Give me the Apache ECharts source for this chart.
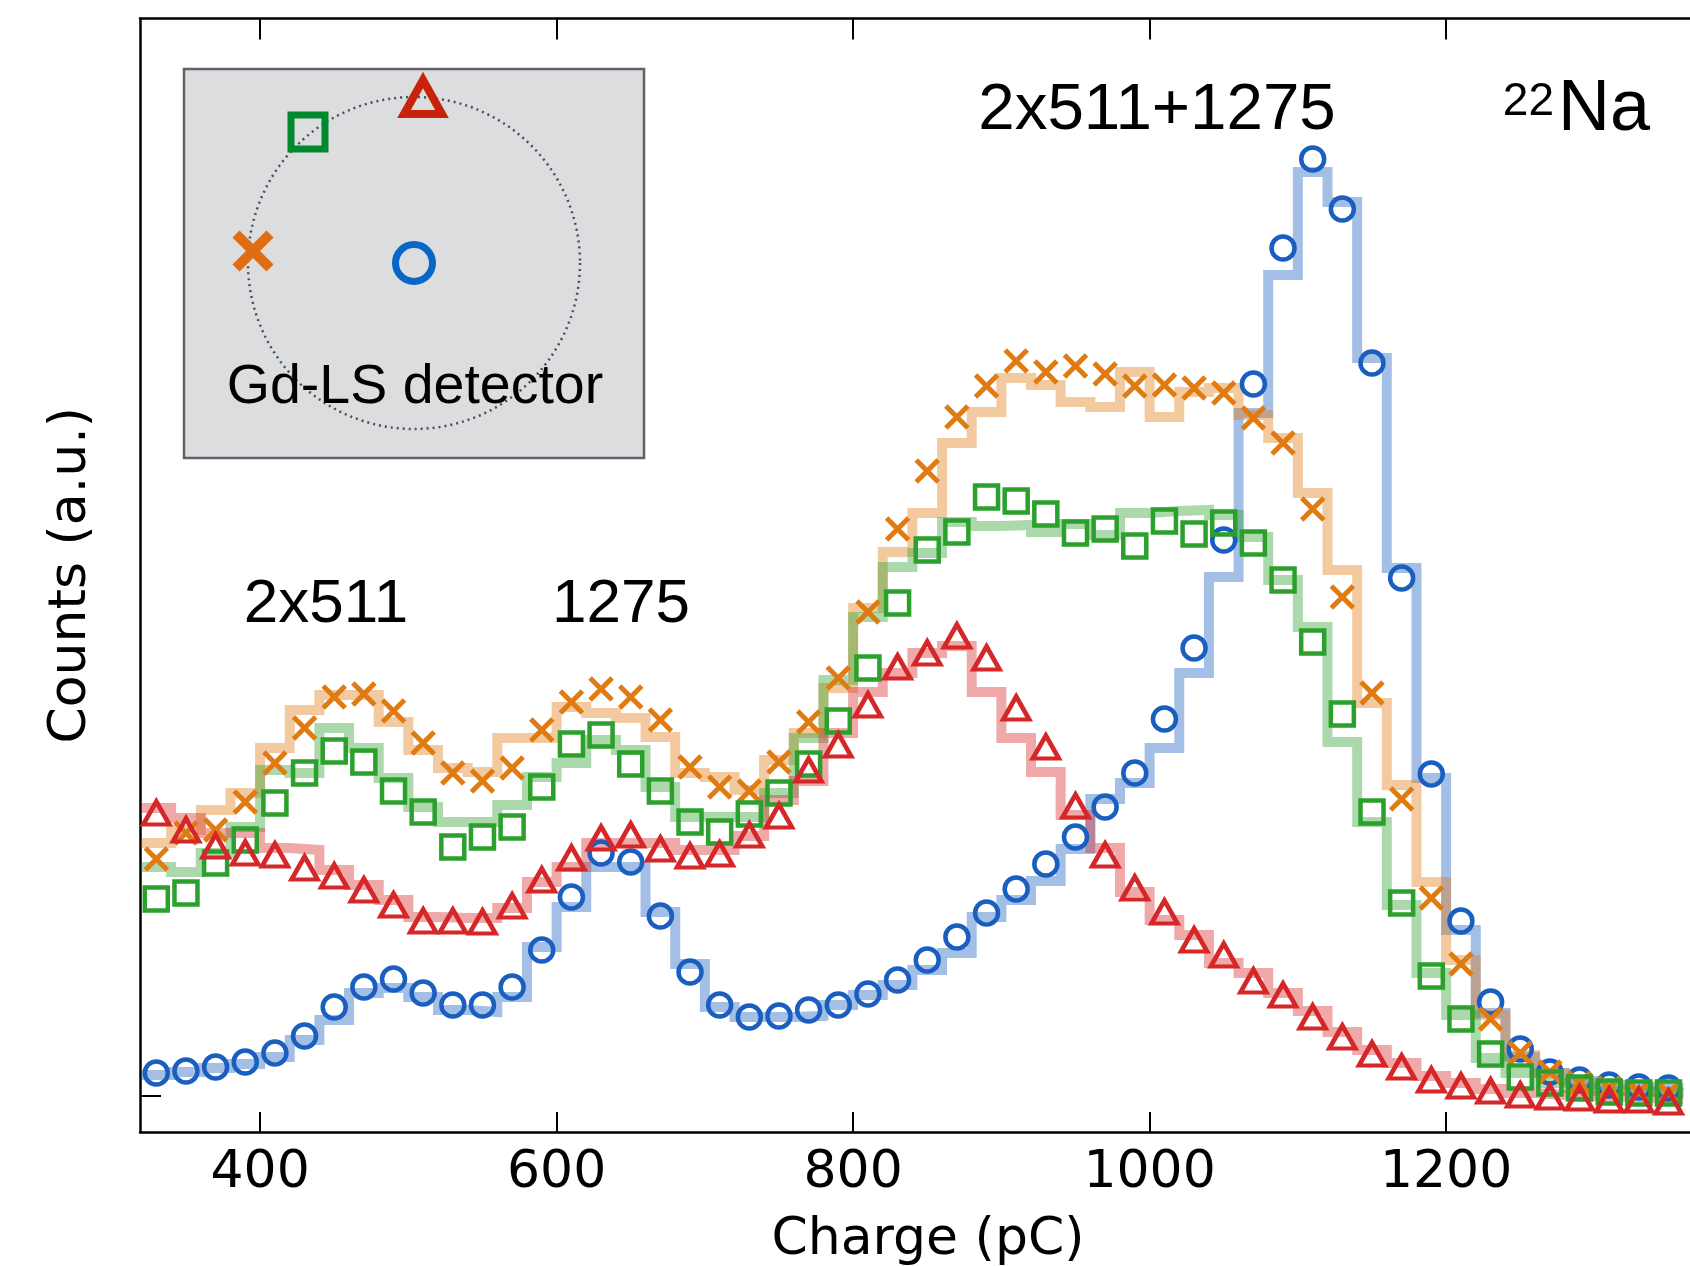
<!DOCTYPE html>
<html>
<head>
<meta charset="utf-8">
<script src="https://cdn.jsdelivr.net/npm/echarts@6/dist/echarts.min.js"></script>
<style>html,body{margin:0;padding:0;background:#fff}#c{width:1690px;height:1266px}</style>
</head>
<body>
<div id="c"></div>
<script>
// Bin centres (pC)
const charge = [330,350,370,390,410,430,450,470,490,510,530,550,570,590,610,630,650,670,690,710,730,750,770,790,810,830,850,870,890,910,930,950,970,990,1010,1030,1050,1070,1090,1110,1130,1150,1170,1190,1210,1230,1250,1270,1290,1310,1330,1350];
// Measured points (a.u.)
const blueData   = [2.3,2.5,2.9,3.4,4.3,6.0,8.9,10.9,11.7,10.3,9.1,9.1,10.9,14.6,19.9,24.3,23.4,18.0,12.4,9.1,7.9,8.0,8.6,9.1,10.2,11.6,13.6,15.9,18.3,20.7,23.2,25.9,28.9,32.3,37.7,44.8,55.6,71.2,84.8,93.7,88.7,73.3,51.8,32.2,17.5,9.4,4.7,2.4,1.6,1.1,0.9,0.8];
const orangeData = [23.7,26.3,26.6,29.4,33.3,36.8,39.9,40.2,38.5,35.3,32.3,31.5,32.8,36.6,39.4,40.7,39.9,37.6,32.9,30.9,30.5,33.4,37.4,41.8,48.4,56.7,62.5,67.9,71.0,73.5,72.4,73.0,72.2,71.0,71.1,70.8,70.3,67.8,65.3,58.7,49.9,40.3,29.7,19.8,13.2,7.7,4.3,2.4,1.3,0.8,0.4,0.3];
const greenData  = [19.7,20.3,23.3,25.6,29.3,32.3,34.5,33.4,30.5,28.4,24.9,25.9,26.9,30.9,35.2,36.1,33.2,30.5,27.4,26.4,28.2,30.3,33.2,37.5,42.8,49.3,54.6,56.4,59.9,59.5,58.2,56.3,56.7,55.0,57.5,56.2,57.3,55.3,51.6,45.4,38.2,28.4,19.3,12.0,7.7,4.2,1.9,1.3,0.8,0.4,0.3,0.3];
const redData    = [28.3,26.6,25.0,24.3,24.1,22.8,22.0,20.6,19.1,17.5,17.5,17.4,19.0,21.6,23.8,25.8,26.1,24.7,24.0,24.2,26.1,28.0,32.6,35.1,39.1,42.9,44.3,46.0,43.8,38.8,34.9,29.0,24.1,20.8,18.4,15.6,14.1,11.5,10.1,7.9,5.9,4.2,2.9,1.6,1.0,0.5,0.1,-0.1,-0.2,-0.4,-0.4,-0.6];
// Histogram (step) curves (a.u.)
const blueStep   = [2.1,2.4,2.8,3.2,3.9,5.6,7.6,10.3,10.8,9.9,8.6,8.4,9.9,14.9,18.9,22.9,22.9,18.4,13.2,8.9,7.9,7.9,8.0,9.1,10.1,11.1,12.6,14.3,17.9,19.6,21.5,24.7,29.7,31.3,34.8,42.3,51.9,68.3,82.1,92.4,89.4,73.8,52.8,31.8,16.6,8.3,3.9,2.3,1.5,1.1,0.9,0.8];
const orangeStep = [25.3,26.6,28.6,30.3,34.8,38.6,40.1,40.1,37.4,34.6,32.8,32.4,35.8,35.8,38.9,38.3,37.8,35.9,32.3,31.9,30.6,33.6,36.3,40.8,48.8,54.4,58.3,65.3,68.4,71.8,71.1,69.4,68.9,72.4,67.9,70.4,70.8,68.1,65.8,60.3,52.6,39.3,31.1,21.4,13.6,8.1,4.1,2.3,1.3,0.8,0.5,0.3];
const greenStep  = [22.9,22.4,24.3,26.9,32.6,32.3,36.8,34.8,31.8,28.9,27.4,27.4,29.1,31.9,33.3,35.6,34.6,30.9,27.9,27.9,27.9,30.3,35.8,41.6,47.9,52.9,54.3,57.4,57.0,57.1,56.4,57.2,56.1,58.3,58.5,58.6,58.1,55.9,51.6,46.9,35.4,27.4,19.1,12.3,8.1,3.8,2.3,1.3,0.8,0.5,0.4,0.3];
const redStep    = [28.8,27.8,26.3,26.3,24.8,24.6,22.6,21.1,19.6,17.9,17.8,17.8,18.8,21.4,22.9,25.3,25.3,25.3,24.6,24.6,26.0,29.6,31.5,36.3,40.4,42.3,44.3,45.0,40.4,35.8,32.4,28.1,24.8,20.4,17.6,16.1,13.3,12.3,10.3,8.5,6.4,4.6,3.3,2.0,1.3,0.7,0.3,0.1,0.0,-0.1,-0.2,-0.3];
// Axis ticks
const xTicks = [400,600,800,1000,1200];
const yTicks = [0];

const AX = 'DejaVu Sans', TX = 'Liberation Sans';
const COL = {blue:'#1a5fc0', orange:'#e07b12', green:'#2ca02c', red:'#d62728'};

const half = (charge[1]-charge[0])/2;
function stepPairs(vals){
  const out = charge.map((c,i)=>[c-half, vals[i]]);
  out.push([charge[charge.length-1]+half, vals[vals.length-1]]);
  return out;
}
function pts(vals){ return charge.map((c,i)=>[c, vals[i]]); }

function stepSeries(vals, color){
  return {type:'line', step:'end', data:stepPairs(vals), symbol:'none', silent:true,
    lineStyle:{color:color, width:10, opacity:0.4, cap:'butt', join:'miter'}, z:2};
}
function markSeries(vals, color, symbol, size, bw){
  return {type:'scatter', data:pts(vals), symbol:symbol, symbolSize:size, silent:true,
    itemStyle:{color:'rgba(0,0,0,0)', borderColor:color, borderWidth:bw, opacity:1}, z:5};
}

const chart = echarts.init(document.getElementById('c'), null, {renderer:'canvas'});
const option = {
  animation:false,
  backgroundColor:'#fff',
  grid:{left:140, right:0, top:18.5, bottom:134, containLabel:false, outerBoundsMode:'none'},
  xAxis:[{
    type:'value', min:319, max:1364.5, position:'bottom',
    axisLine:{show:true, onZero:false, lineStyle:{color:'#000', width:2.5}},
    axisTick:{show:true, inside:true, length:20, lineStyle:{color:'#000', width:2}, customValues:xTicks},
    axisLabel:{show:true, customValues:xTicks, fontSize:52, fontFamily:AX, color:'#000', margin:15,
      formatter:function(v){return String(v);}},
    splitLine:{show:false},
    name:'Charge (pC)', nameLocation:'middle', nameGap:82,
    nameTextStyle:{fontSize:52, fontFamily:AX, color:'#000', padding:[0,0,0,26]}
  },{
    type:'value', min:319, max:1364.5, position:'top',
    axisLine:{show:true, onZero:false, lineStyle:{color:'#000', width:2.5}},
    axisTick:{show:true, inside:true, length:21, lineStyle:{color:'#000', width:2}, customValues:xTicks},
    axisLabel:{show:false}, splitLine:{show:false}
  }],
  yAxis:{
    type:'value', min:-3.6, max:107.75,
    axisLine:{show:true, onZero:false, lineStyle:{color:'#000', width:2.5}},
    axisTick:{show:true, inside:true, length:21, lineStyle:{color:'#000', width:2}, customValues:yTicks},
    axisLabel:{show:false}, splitLine:{show:false},
    name:'Counts (a.u.)', nameLocation:'middle', nameGap:43, nameRotate:90,
    nameTextStyle:{fontSize:52, fontFamily:AX, color:'#000'}
  },
  series:[
    stepSeries(blueStep, COL.blue),
    stepSeries(orangeStep, COL.orange),
    stepSeries(greenStep, COL.green),
    stepSeries(redStep, COL.red),
    markSeries(blueData, COL.blue, 'circle', 23, 4.5),
    markSeries(orangeData, COL.orange, 'path://M0,0L10,10M10,0L0,10', 22, 5),
    markSeries(greenData, COL.green, 'rect', 23, 4.5),
    markSeries(redData, COL.red, 'triangle', [26,23], 4.5)
  ],
  graphic:[
    // inset
    {type:'rect', shape:{x:184, y:69, width:460, height:389}, style:{fill:'#dcdddf', stroke:'#5f6368', lineWidth:2.5}, z:10, silent:true},
    {type:'circle', shape:{cx:414, cy:263, r:166}, style:{fill:'none', stroke:'#4a4e55', lineWidth:2.5, lineDash:[2,4]}, z:11, silent:true},
    {type:'polygon', shape:{points:[[423,80],[404,114],[442,114]]}, style:{fill:'none', stroke:'#c8220a', lineWidth:8, lineJoin:'miter'}, z:12, silent:true},
    {type:'rect', shape:{x:291, y:115, width:34, height:34}, style:{fill:'none', stroke:'#00882d', lineWidth:7}, z:12, silent:true},
    {type:'polyline', shape:{points:[[236,234],[270,268]]}, style:{stroke:'#e06d12', lineWidth:10, lineCap:'butt'}, z:12, silent:true},
    {type:'polyline', shape:{points:[[270,234],[236,268]]}, style:{stroke:'#e06d12', lineWidth:10, lineCap:'butt'}, z:12, silent:true},
    {type:'circle', shape:{cx:414, cy:263, r:18.5}, style:{fill:'none', stroke:'#0866c6', lineWidth:7}, z:12, silent:true},
    {type:'text', x:415, y:388, style:{text:'Gd-LS detector', font:'55.5px "'+TX+'"', fill:'#000', align:'center', verticalAlign:'middle'}, z:13, silent:true},
    // annotations
    {type:'text', x:326, y:605, style:{text:'2x511', font:'62px "'+TX+'"', fill:'#000', align:'center', verticalAlign:'middle'}, z:13, silent:true},
    {type:'text', x:621, y:605, style:{text:'1275', font:'62px "'+TX+'"', fill:'#000', align:'center', verticalAlign:'middle'}, z:13, silent:true},
    {type:'text', x:1157, y:111, style:{text:'2x511+1275', font:'65.5px "'+TX+'"', fill:'#000', align:'center', verticalAlign:'middle'}, z:13, silent:true},
    {type:'text', x:1554, y:102, style:{text:'22', font:'46px "'+TX+'"', fill:'#000', align:'right', verticalAlign:'middle'}, z:13, silent:true},
    {type:'text', x:1558, y:110, style:{text:'Na', font:'72px "'+TX+'"', fill:'#000', align:'left', verticalAlign:'middle'}, z:13, silent:true}
  ]
};
chart.setOption(option);
</script>
</body>
</html>
